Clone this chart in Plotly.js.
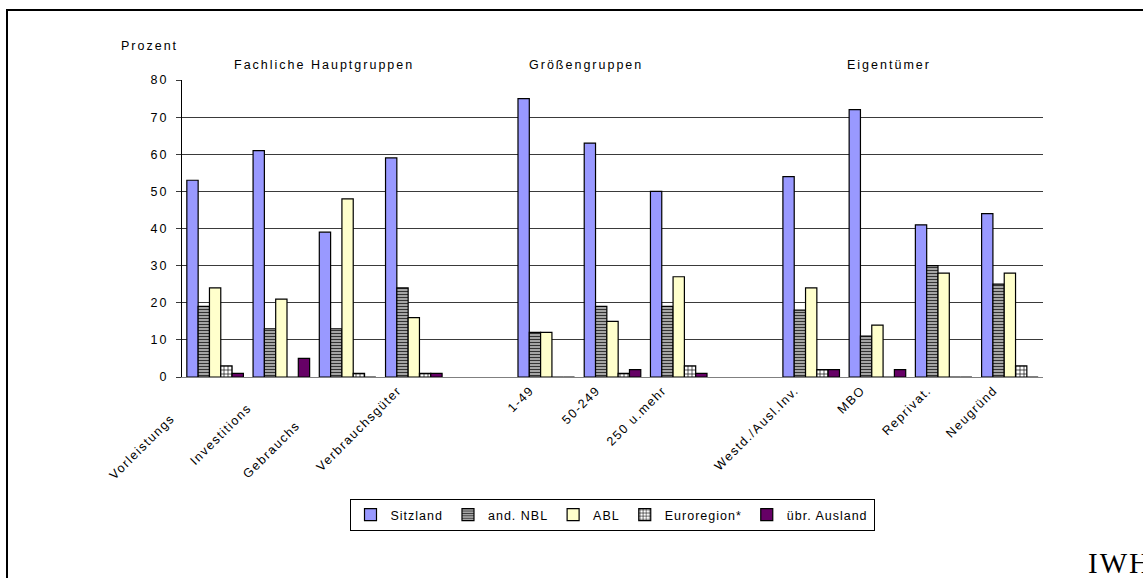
<!DOCTYPE html>
<html>
<head>
<meta charset="utf-8">
<script src="https://cdn.plot.ly/plotly-3.0.1.min.js"></script>
<style>
  html, body { margin: 0; padding: 0; background: #fff; }
  #chart { width: 1143px; height: 578px; }
  svg text { letter-spacing: 2px; }
  svg .xtick text { letter-spacing: 1.5px; }
  svg text.legendtext { letter-spacing: 1px; }
</style>
</head>
<body>
<div id="chart"></div>
<script>
const NB = '\u00a0';
const categories = [
  "Vorleistungs" + NB.repeat(8),
  "Investitions" + NB.repeat(5),
  "Gebrauchs" + NB.repeat(10),
  "Verbrauchsgüter",
  "",
  "1-49",
  "50-249",
  "250 u.mehr",
  "",
  "Westd./Ausl.Inv.",
  "MBO",
  "Reprivat.",
  "Neugründ"
];
const seriesNames = ["Sitzland", "and. NBL", "ABL", "Euroregion*", "übr. Ausland"];
const sitzland   = [53, 61, 39, 59, null, 75, 63, 50, null, 54, 72, 41, 44];
const andNBL     = [19, 13, 13, 24, null, 12, 19, 19, null, 18, 11, 30, 25];
const abl        = [24, 21, 48, 16, null, 12, 15, 27, null, 24, 14, 28, 28];
const euroregion = [3, 0, 1, 1, null, 0, 1, 3, null, 2, 0, 0, 3];
const uebrAusland= [1, 5, 0, 1, null, 0, 2, 1, null, 2, 2, 0, 0];
const groupLabels = ["Fachliche Hauptgruppen", "Größengruppen", "Eigentümer"];
const groupLabelPos = [1.65, 5.6, 10.18];
const yTitle = "Prozent";
const sourceLabel = "IWH";

const FONT = 'Liberation Sans, Arial, sans-serif';
const xPos = categories.map((c, i) => i);
const values = [sitzland, andNBL, abl, euroregion, uebrAusland];
const styles = [
  {color: '#9999FF'},
  {color: '#9a9a9a', pattern: {shape: '-', fgcolor: '#333333', bgcolor: '#bdbdbd', size: 3, solidity: 0.45}},
  {color: '#FFFFCC'},
  {color: '#ffffff', pattern: {shape: '+', fgcolor: '#000000', bgcolor: '#ffffff', size: 4, solidity: 0.3}},
  {color: '#660066'}
];

const traces = values.map((v, k) => ({
  type: 'bar',
  name: seriesNames[k],
  x: xPos,
  y: v,
  marker: Object.assign({line: {color: '#000000', width: 1.2}}, styles[k]),
  hoverinfo: 'x+y+name'
}));

const annotations = groupLabels.map((t, i) => ({
  text: t, x: groupLabelPos[i], xref: 'x', y: 1.05, yref: 'paper',
  showarrow: false, xanchor: 'center', yanchor: 'middle',
  font: {family: FONT, size: 12.5, color: '#000'}
}));
annotations.push({
  text: yTitle, x: (149 - 182) / 861, xref: 'paper', y: 1.114, yref: 'paper',
  showarrow: false, xanchor: 'center', yanchor: 'middle',
  font: {family: FONT, size: 12.5, color: '#000'}
});
annotations.push({
  text: sourceLabel, x: (1086 - 182) / 861, xref: 'paper', y: (377 - 563) / 297, yref: 'paper',
  showarrow: false, xanchor: 'left', yanchor: 'middle',
  font: {family: 'Liberation Serif, Times New Roman, serif', size: 29, color: '#000'}
});

const layout = {
  width: 1143, height: 578,
  margin: {l: 182, r: 100, t: 80, b: 201, pad: 0},
  paper_bgcolor: '#ffffff', plot_bgcolor: '#ffffff',
  font: {family: FONT, size: 12.5, color: '#000'},
  barmode: 'group', bargap: 0.146, bargroupgap: 0,
  showlegend: true,
  legend: {
    orientation: 'h', x: (612 - 182) / 861, xanchor: 'center', y: (377 - 499) / 297, yanchor: 'top',
    bordercolor: '#000', borderwidth: 1, bgcolor: '#fff',
    font: {family: FONT, size: 12.5}, itemclick: false
  },
  xaxis: {
    type: 'linear', range: [-0.5, 12.5],
    tickmode: 'array', tickvals: xPos, ticktext: categories,
    tickangle: -45, ticks: '', showgrid: false, zeroline: false,
    showline: true, linecolor: '#808080', linewidth: 1,
    ticklabelshift: -16,
    tickfont: {family: FONT, size: 12.5}, fixedrange: true
  },
  yaxis: {
    range: [0, 80], dtick: 10, tick0: 0,
    showgrid: true, gridcolor: '#3a3a3a', gridwidth: 1,
    zeroline: false, showline: true, linecolor: '#000', linewidth: 1,
    ticks: 'outside', ticklen: 5, tickcolor: '#3a3a3a',
    ticklabelstandoff: 5, tickfont: {family: FONT, size: 12.5}, fixedrange: true
  },
  annotations: annotations,
  shapes: [{
    type: 'rect', xref: 'paper', yref: 'paper',
    x0: (7 - 182) / 861, x1: 1.2, y0: -0.75, y1: (377 - 10) / 297,
    line: {color: '#000', width: 2}, fillcolor: 'rgba(0,0,0,0)', layer: 'below'
  }]
};

Plotly.newPlot('chart', traces, layout, {displayModeBar: false, staticPlot: true});
</script>
</body>
</html>
